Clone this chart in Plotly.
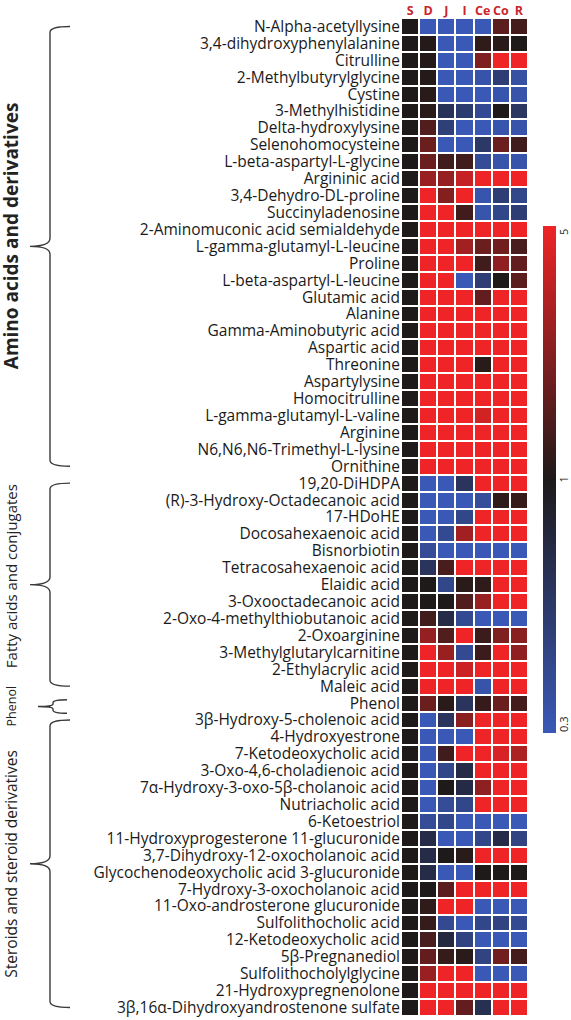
import numpy as np
import plotly.graph_objects as go

columns = ["S", "D", "J", "I", "Ce", "Co", "R"]

metabolites = [
    "N-Alpha-acetyllysine", "3,4-dihydroxyphenylalanine", "Citrulline",
    "2-Methylbutyrylglycine", "Cystine", "3-Methylhistidine",
    "Delta-hydroxylysine", "Selenohomocysteine", "L-beta-aspartyl-L-glycine",
    "Argininic acid", "3,4-Dehydro-DL-proline", "Succinyladenosine",
    "2-Aminomuconic acid semialdehyde", "L-gamma-glutamyl-L-leucine", "Proline",
    "L-beta-aspartyl-L-leucine", "Glutamic acid", "Alanine",
    "Gamma-Aminobutyric acid", "Aspartic acid", "Threonine", "Aspartylysine",
    "Homocitrulline", "L-gamma-glutamyl-L-valine", "Arginine",
    "N6,N6,N6-Trimethyl-L-lysine", "Ornithine",
    "19,20-DiHDPA", "(R)-3-Hydroxy-Octadecanoic acid", "17-HDoHE",
    "Docosahexaenoic acid", "Bisnorbiotin", "Tetracosahexaenoic acid",
    "Elaidic acid", "3-Oxooctadecanoic acid", "2-Oxo-4-methylthiobutanoic acid",
    "2-Oxoarginine", "3-Methylglutarylcarnitine", "2-Ethylacrylic acid",
    "Maleic acid",
    "Phenol",
    "3β-Hydroxy-5-cholenoic acid", "4-Hydroxyestrone", "7-Ketodeoxycholic acid",
    "3-Oxo-4,6-choladienoic acid", "7α-Hydroxy-3-oxo-5β-cholanoic acid",
    "Nutriacholic acid", "6-Ketoestriol", "11-Hydroxyprogesterone 11-glucuronide",
    "3,7-Dihydroxy-12-oxocholanoic acid", "Glycochenodeoxycholic acid 3-glucuronide",
    "7-Hydroxy-3-oxocholanoic acid", "11-Oxo-androsterone glucuronide",
    "Sulfolithocholic acid", "12-Ketodeoxycholic acid", "5β-Pregnanediol",
    "Sulfolithocholylglycine", "21-Hydroxypregnenolone",
    "3β,16α-Dihydroxyandrostenone sulfate",
]

# fold-change values (one list per column)
S = [1.0, 1.0, 1.0, 1.0, 1.0, 1.0, 1.0, 1.0, 1.0, 1.0,
     1.0, 1.0, 1.0, 1.0, 1.0, 1.0, 1.0, 1.0, 1.0, 1.0,
     1.0, 1.0, 1.0, 1.0, 1.0, 1.0, 1.0, 1.0, 1.0, 1.0,
     1.0, 1.0, 1.0, 1.0, 1.0, 1.0, 1.0, 1.0, 1.0, 1.0,
     1.0, 1.0, 1.0, 1.0, 1.0, 1.0, 1.0, 1.0, 1.0, 1.0,
     1.0, 1.0, 1.0, 1.0, 1.0, 1.0, 1.0, 1.0, 1.0]
D = [0.3, 1.05, 1.05, 1.05, 1.1, 1.1, 1.5, 1.8, 1.8, 2.6,
     5, 5, 5, 5, 5, 5, 5, 5, 5, 5,
     5, 5, 5, 5, 5, 5, 5, 0.3, 0.3, 0.3,
     0.3, 0.38, 0.6, 1.0, 1.0, 1.3, 2.5, 5, 5, 5,
     1.8, 0.3, 0.3, 0.3, 0.3, 0.3, 0.3, 0.38, 0.7, 0.7,
     0.7, 1.0, 1.15, 1.2, 1.4, 1.7, 2.6, 5, 5]
J = [0.3, 0.3, 0.3, 0.3, 0.3, 0.62, 0.48, 0.3, 1.3, 2.5,
     2.2, 5, 5, 5, 5, 5, 5, 5, 5, 5,
     5, 5, 5, 5, 5, 5, 5, 0.3, 0.3, 0.3,
     0.4, 0.3, 1.4, 0.42, 1.0, 0.7, 1.5, 2.6, 5, 5,
     1.1, 0.6, 0.3, 1.3, 0.42, 1.0, 0.38, 0.42, 0.3, 1.0,
     0.3, 1.6, 5, 0.4, 0.75, 1.2, 5, 5, 5]
I = [0.3, 0.3, 0.3, 0.3, 0.3, 0.52, 0.3, 0.3, 1.3, 3.6,
     5, 1.3, 5, 2.8, 5, 0.3, 5, 5, 5, 5,
     5, 5, 5, 5, 5, 5, 5, 0.6, 0.3, 0.42,
     2.8, 0.3, 5, 1.1, 1.5, 0.4, 5, 0.4, 3.8, 5,
     0.6, 2.3, 0.3, 5, 0.7, 0.72, 0.42, 0.3, 0.3, 1.1,
     0.3, 5, 5, 0.3, 0.45, 1.1, 5, 5, 1.7]
Ce = [0.3, 1.15, 2.1, 0.33, 0.3, 0.4, 0.3, 0.55, 0.38, 5,
      0.32, 0.32, 5, 1.8, 1.3, 0.5, 1.7, 5, 5, 5,
      1.1, 5, 5, 4, 5, 5, 5, 5, 0.37, 5,
      5, 0.3, 5, 1.15, 2.6, 0.3, 1.25, 1.25, 5, 0.33,
      1.2, 5, 5, 5, 5, 2.4, 5, 0.3, 0.42, 5,
      1.0, 5, 0.3, 0.42, 0.3, 0.45, 0.3, 5, 0.65]
Co = [1.6, 1.1, 5, 0.5, 0.32, 1.0, 0.32, 1.8, 0.33, 5,
      0.5, 0.42, 5, 1.9, 2.4, 1.0, 5, 5, 5, 5,
      5, 5, 5, 5, 5, 5, 5, 5, 1.15, 5,
      5, 0.3, 5, 5, 5, 0.3, 2.1, 5, 5, 5,
      1.8, 5, 5, 4.2, 5, 5, 5, 0.3, 0.7, 5,
      1.0, 5, 0.3, 0.45, 0.3, 1.9, 0.3, 5, 5]
R = [1.35, 1.0, 5, 0.35, 0.33, 0.58, 0.33, 1.3, 0.33, 5,
     0.42, 0.5, 5, 1.4, 1.7, 1.6, 5, 5, 5, 5,
     5, 5, 5, 5, 5, 5, 5, 5, 1.2, 5,
     5, 0.3, 5, 5, 5, 0.3, 2.3, 2.4, 5, 5,
     1.35, 5, 5, 3.0, 5, 5, 5, 0.3, 0.45, 5,
     1.0, 5, 0.3, 0.4, 0.3, 1.35, 0.3, 5, 5]

colorbar_ticks = [0.3, 1, 5]
colorbar_ticktext = ["0.3", "1", "5"]

# (label, first row, last row)
groups = [
    ("Amino acids and derivatives", 0, 26),
    ("Fatty acids and conjugates", 27, 39),
    ("Phenol", 40, 40),
    ("Steroids and steroid derivatives", 41, 58),
]
# label styling: font size, bold, vertical nudge (rows)
group_style = [(19, True, -0.6), (15, False, -0.5), (12.5, False, 0.2), (15.5, False, 0.0)]

# ---------------------------------------------------------------
W, H = 571, 1020
ML, MR, MT, MB = 401, 43, 18, 4
PW = W - ML - MR
PH = H - MT - MB
n = len(metabolites)
ROW_PX = PH / n


def to_z(v):
    v = np.asarray(v, dtype=float)
    return np.where(v >= 1, np.log(v) / np.log(5.0), np.log(v) / np.log(1 / 0.3))


fc = np.array([S, D, J, I, Ce, Co, R]).T  # rows x columns
z = to_z(fc)

blue = "rgb(58,88,182)"
black = "rgb(30,26,26)"
red = "rgb(238,36,38)"

CB_TOP, CB_BOT, CB_LEFT, CB_W = 226, 733, 543, 13

fig = go.Figure(go.Heatmap(
    z=z, x=columns, y=list(range(n)), customdata=fc,
    colorscale=[[0, blue], [0.5, black], [1, red]],
    zmin=-1, zmax=1, xgap=2, ygap=2,
    hovertemplate="%{y}<br>%{x}: %{customdata:.2f}<extra></extra>",
    colorbar=dict(
        thickness=CB_W, len=(CB_BOT - CB_TOP) / PH, lenmode="fraction",
        y=1 - ((CB_TOP + CB_BOT) / 2 - MT) / PH, yanchor="middle",
        x=(CB_LEFT - ML) / PW, xanchor="left", xpad=0, ypad=0,
        outlinewidth=0, ticks="", showticklabels=False,
    ),
))


def px_x(px):
    return (px - ML) / PW


def px_y(py):
    return 1 - (py - MT) / PH


shapes = []
annotations = []
for (label, first, last), (fsize, bold, nudge) in zip(groups, group_style):
    if first == last:
        top, bot = first - 0.2, last + 0.6
        xe, xl, xt, r, rt = 67, 53, 38, 3 / ROW_PX, 2.5 / ROW_PX
    else:
        top, bot = first, last
        xe, xl, xt, r, rt = 70, 50, 30, 6 / ROW_PX, 8 / ROW_PX
    mid = (top + bot) / 2
    path = (f"M {px_x(xe)},{top} Q {px_x(xl)},{top} {px_x(xl)},{top + r} "
            f"L {px_x(xl)},{mid - rt} Q {px_x(xl)},{mid} {px_x(xt)},{mid} "
            f"Q {px_x(xl)},{mid} {px_x(xl)},{mid + rt} "
            f"L {px_x(xl)},{bot - r} Q {px_x(xl)},{bot} {px_x(xe)},{bot}")
    shapes.append(dict(type="path", path=path, xref="paper", yref="y",
                       line=dict(color="#3a3a3a", width=1.4)))
    annotations.append(dict(
        text=f"<b>{label}</b>" if bold else label,
        x=px_x(11), y=(first + last) / 2 + nudge,
        xref="paper", yref="y",
        textangle=-90, showarrow=False, xanchor="center", yanchor="middle",
        font=dict(family="Open Sans", size=fsize, color="#222"),
    ))

# colorbar tick labels (rotated, to the right of the bar)
for val, txt in zip(colorbar_ticks, colorbar_ticktext):
    zt = float(to_z(val))
    py = CB_BOT - (zt + 1) / 2 * (CB_BOT - CB_TOP)
    py = min(max(py, CB_TOP + 6), CB_BOT - 8)
    annotations.append(dict(
        text=txt, x=px_x(CB_LEFT + CB_W + 7), y=px_y(py),
        xref="paper", yref="paper", textangle=-90, showarrow=False,
        xanchor="center", yanchor="middle",
        font=dict(family="Open Sans", size=11, color="#222"),
    ))

fig.update_layout(
    template="none",
    width=W, height=H,
    margin=dict(l=ML, r=MR, t=MT, b=MB, autoexpand=False),
    paper_bgcolor="white", plot_bgcolor="white",
    shapes=shapes, annotations=annotations,
    xaxis=dict(side="top", showgrid=False, zeroline=False, ticks="",
               tickangle=0, automargin=False, showline=False,
               tickfont=dict(family="Open Sans", size=12.5, color="#c9252b",
                             weight="bold")),
    yaxis=dict(tickvals=list(range(n)), ticktext=metabolites,
               range=[n - 0.5, -0.5], showgrid=False, zeroline=False,
               ticks="", automargin=False, showline=False,
               tickfont=dict(family="Open Sans", size=15.5, color="#1a1a1a")),
)

fig.write_html(
    "out.html",
    config={"displayModeBar": False},
    post_script="document.body.style.margin='0';document.body.style.padding='0';",
)
